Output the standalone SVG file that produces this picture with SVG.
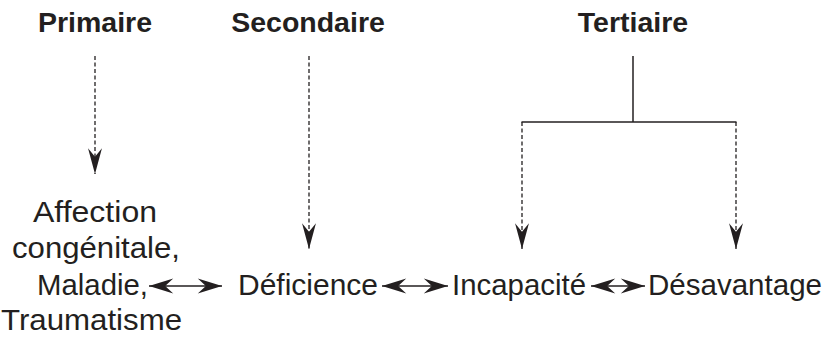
<svg xmlns="http://www.w3.org/2000/svg" width="828" height="337" viewBox="0 0 828 337">
<style>
.t{font-family:"Liberation Sans",Arial,sans-serif;font-weight:bold;font-size:28.5px;fill:#231f20;text-anchor:middle}
.n{font-family:"Liberation Sans",Arial,sans-serif;font-size:30px;fill:#231f20}
.d{stroke:#231f20;stroke-width:1.3;stroke-dasharray:4 2.5;fill:none}
.s{stroke:#231f20;stroke-width:1.5;fill:none}
.h{stroke:#231f20;stroke-width:1.5;fill:none}
</style>
<defs>
<marker id="v" markerUnits="userSpaceOnUse" markerWidth="30" markerHeight="20" viewBox="-26 -8 28 16" refX="0" refY="0" orient="auto">
<path d="M0,0 L-24,-6.5 L-16,0 L-24,6.5 Z" fill="#231f20"/>
</marker>
<marker id="a" markerUnits="userSpaceOnUse" markerWidth="30" markerHeight="20" viewBox="-24 -8 26 16" refX="0" refY="0" orient="auto-start-reverse">
<path d="M0,0 L-21,-6.5 L-14,0 L-21,6.5 Z" fill="#231f20"/>
</marker>
</defs>
<g id="titles">
<text id="primaire" class="t" x="95" y="32">Primaire</text>
<text id="secondaire" class="t" x="308" y="32">Secondaire</text>
<text id="tertiaire" class="t" x="633" y="32">Tertiaire</text>
</g>
<g id="node-affection">
<text class="n" x="33" y="222" textLength="124" lengthAdjust="spacingAndGlyphs">Affection</text>
<text class="n" x="12" y="258" textLength="168" lengthAdjust="spacingAndGlyphs">congénitale,</text>
<text class="n" x="37" y="295" textLength="111" lengthAdjust="spacingAndGlyphs">Maladie,</text>
<text class="n" x="1" y="330" textLength="181" lengthAdjust="spacingAndGlyphs">Traumatisme</text>
</g>
<g id="node-deficience"><text class="n" x="238" y="295" textLength="140" lengthAdjust="spacingAndGlyphs">Déficience</text></g>
<g id="node-incapacite"><text class="n" x="452" y="295" textLength="134" lengthAdjust="spacingAndGlyphs">Incapacité</text></g>
<g id="node-desavantage"><text class="n" x="648" y="295" textLength="174" lengthAdjust="spacingAndGlyphs">Désavantage</text></g>
<g id="connectors">
<line class="d" x1="95" y1="56" x2="95" y2="174" marker-end="url(#v)"/>
<line class="d" x1="309" y1="56" x2="309" y2="249" marker-end="url(#v)"/>
<line class="s" x1="633" y1="56" x2="633" y2="122"/>
<line class="s" x1="521.5" y1="122" x2="736.5" y2="122"/>
<line class="d" x1="522" y1="122" x2="522" y2="249" marker-end="url(#v)"/>
<line class="d" x1="736" y1="122" x2="736" y2="249" marker-end="url(#v)"/>
<line class="h" x1="149" y1="286" x2="222" y2="286" marker-start="url(#a)" marker-end="url(#a)"/>
<line class="h" x1="382" y1="286" x2="448" y2="286" marker-start="url(#a)" marker-end="url(#a)"/>
<line class="h" x1="591" y1="286" x2="645" y2="286" marker-start="url(#a)" marker-end="url(#a)"/>
</g>
</svg>
